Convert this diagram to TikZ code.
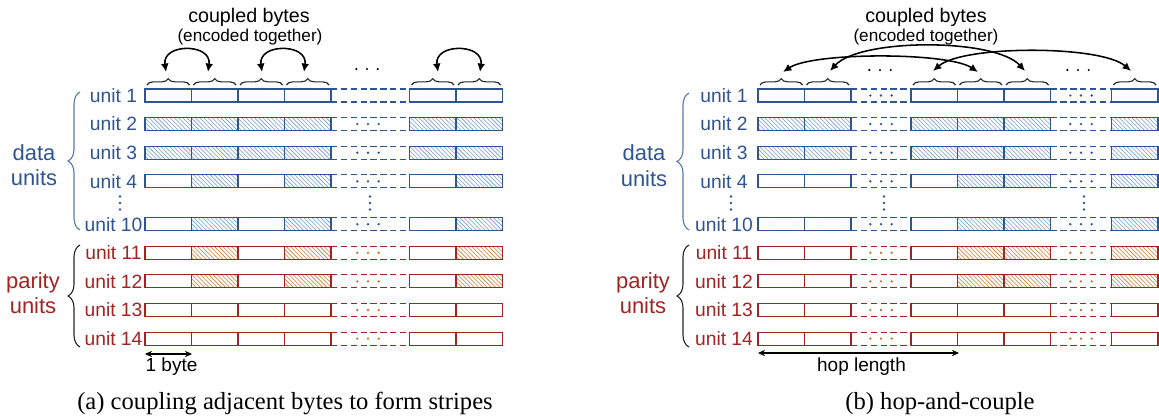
\documentclass[tikz,border=0pt]{standalone}
\usepackage{fontspec}
\setmainfont{Liberation Serif}
\setsansfont{Liberation Sans}
\usepackage{tikz}
\usetikzlibrary{arrows.meta, patterns, decorations.pathreplacing}

\definecolor{datablue}{RGB}{46,84,146}
\definecolor{hatchblue}{RGB}{120,158,210}
\definecolor{braceblue}{RGB}{84,122,176}
\definecolor{parred}{RGB}{163,35,35}
\definecolor{hatchorange}{RGB}{212,128,52}
\definecolor{dotorange}{RGB}{196,112,40}

\begin{document}
\begin{tikzpicture}[
  x=0.025cm, y=0.025cm,
  font=\sffamily,
  every node/.style={align=center},
  cellb/.style={draw=datablue, line width=0.8pt, fill=white},
  cellr/.style={draw=parred, line width=0.8pt, fill=white},
  gapb/.style={draw=datablue, line width=0.8pt, dash pattern=on 4.5pt off 2.5pt},
  gapr/.style={draw=parred, line width=0.8pt, dash pattern=on 4.5pt off 2.5pt},
  hatchb/.style={pattern=north west lines, pattern color=hatchblue},
  hatchr/.style={pattern=north west lines, pattern color=hatchorange},
  datalab/.style={text=datablue, font=\fontsize{13.7}{16}\selectfont\sffamily},
  parlab/.style={text=parred, font=\fontsize{13.7}{16}\selectfont\sffamily},
  grouplab/.style={font=\fontsize{15.6}{18}\selectfont\sffamily},
  toplab/.style={font=\fontsize{14}{16}\selectfont\sffamily},
  sublab/.style={font=\fontsize{12.2}{14}\selectfont\sffamily},
  dimlab/.style={font=\fontsize{13.5}{16}\selectfont\sffamily},
  caption/.style={font=\fontsize{17.5}{20}\selectfont\rmfamily},
  topbrace/.style={draw=black!85, line width=0.8pt, decorate, decoration={brace, amplitude=4.5pt}},
  sidebrace/.style={line width=0.8pt, decorate, decoration={brace, amplitude=8.5pt}},
  couple/.style={{Latex[length=6pt,width=5.5pt]}-{Latex[length=6pt,width=5.5pt]}, line width=1.1pt},
  dimarr/.style={{Stealth[length=5pt,width=4.5pt]}-{Stealth[length=5pt,width=4.5pt]}, line width=0.8pt}
]
\useasboundingbox (0,0) rectangle (1159,-416);

%% (a) coupling adjacent bytes
\foreach \yy in {95.5,124.1,152.7,181.3,224.2}{
  \foreach \xx in {145,191.5,238,284.5,409.5,456}
    \draw[cellb] (\xx,-\yy+6.5) rectangle ++(46.5,-13);
  \draw[gapb] (331,-\yy+6.5) -- ++(78.5,0) (331,-\yy-6.5) -- ++(78.5,0);
}
\foreach \yy in {252.8,281.4,310,338.6}{
  \foreach \xx in {145,191.5,238,284.5,409.5,456}
    \draw[cellr] (\xx,-\yy+6.5) rectangle ++(46.5,-13);
  \draw[gapr] (331,-\yy+6.5) -- ++(78.5,0) (331,-\yy-6.5) -- ++(78.5,0);
}
\foreach \yy in {124.1,152.7}
  \foreach \xx in {145,191.5,238,284.5,409.5,456}
    \draw[cellb,hatchb] (\xx,-\yy+6.5) rectangle ++(46.5,-13);
\foreach \yy in {181.3,224.2}
  \foreach \xx in {191.5,284.5,456}
    \draw[cellb,hatchb] (\xx,-\yy+6.5) rectangle ++(46.5,-13);
\foreach \yy in {252.8,281.4}
  \foreach \xx in {191.5,284.5,456}
    \draw[cellr,hatchr] (\xx,-\yy+6.5) rectangle ++(46.5,-13);

% dots
\foreach \yy in {124.1,152.7,181.3,224.2}
  \foreach \d in {-10.7,0,10.7}
    \fill[datablue] (368+\d,-\yy) circle[radius=1.3];
\foreach \yy in {252.8,281.4,310,338.6}
  \foreach \d in {-10.7,0,10.7}
    \fill[dotorange] (368+\d,-\yy) circle[radius=1.3];
\foreach \xx in {120,370}
  \foreach \d in {-6.5,0,6.5}
    \fill[datablue] (\xx,-203+\d) circle[radius=1.3];
\foreach \d in {-10.7,0,10.7}
  \fill (367+\d,-69) circle[radius=1.2];

% labels
\foreach \yy/\n in {95.5/1,124.1/2,152.7/3,181.3/4,224.2/10}
  \node[datalab] (a-u\n) at (113.5,-\yy) {unit \n};
\foreach \yy/\n in {252.8/11,281.4/12,310/13,338.6/14}
  \node[parlab] (a-u\n) at (113.5,-\yy) {unit \n};
\node[grouplab, text=datablue] (a-data) at (34,-165) {data\\units};
\node[grouplab, text=parred] (a-par) at (33,-293) {parity\\units};
\draw[sidebrace, draw=braceblue] (80,-230) -- (80,-92);
\draw[sidebrace, draw=black!85] (80,-347) -- (80,-245);

% coupled bytes
\foreach \xx in {145,191.5,238,284.5,409.5,456}
  \draw[topbrace] (\xx+2,-85) -- (\xx+44.5,-85);
\coordinate (a-p1) at (166,-72);
\coordinate (a-q1) at (208,-72);
\coordinate (a-p2) at (262,-72);
\coordinate (a-q2) at (304,-72);
\coordinate (a-p3) at (438,-72);
\coordinate (a-q3) at (480,-72);
\draw[couple] (a-p1) .. controls +(-4,29) and +(4,29) .. (a-q1);
\draw[couple] (a-p2) .. controls +(-4,29) and +(4,29) .. (a-q2);
\draw[couple] (a-p3) .. controls +(-4,29) and +(4,29) .. (a-q3);
\node[toplab, anchor=base] (a-cb) at (249,-22) {coupled bytes};
\node[sublab, anchor=base] (a-et) at (250,-41) {(encoded together)};

\coordinate (a-b0) at (145,-354);
\coordinate (a-b1) at (192,-354);
\draw[dimarr] (a-b0) -- (a-b1);
\node[dimlab, anchor=base] (a-byte) at (171.5,-371) {1 byte};
\node[caption, anchor=base] (a-cap) at (285,-409) {(a) coupling adjacent bytes to form stripes};

%% (b) hop-and-couple
\foreach \yy in {95.5,124.1,152.7,181.3,224.2}{
  \foreach \xx in {758,804.5,911,957.5,1004,1111.5}
    \draw[cellb] (\xx,-\yy+6.5) rectangle ++(46.5,-13);
  \draw[gapb] (851,-\yy+6.5) -- ++(60,0) (851,-\yy-6.5) -- ++(60,0);
  \draw[gapb] (1050.5,-\yy+6.5) -- ++(61,0) (1050.5,-\yy-6.5) -- ++(61,0);
}
\foreach \yy in {252.8,281.4,310,338.6}{
  \foreach \xx in {758,804.5,911,957.5,1004,1111.5}
    \draw[cellr] (\xx,-\yy+6.5) rectangle ++(46.5,-13);
  \draw[gapr] (851,-\yy+6.5) -- ++(60,0) (851,-\yy-6.5) -- ++(60,0);
  \draw[gapr] (1050.5,-\yy+6.5) -- ++(61,0) (1050.5,-\yy-6.5) -- ++(61,0);
}
\foreach \yy in {124.1,152.7}
  \foreach \xx in {758,804.5,911,957.5,1004,1111.5}
    \draw[cellb,hatchb] (\xx,-\yy+6.5) rectangle ++(46.5,-13);
\foreach \yy in {181.3,224.2}
  \foreach \xx in {957.5,1004,1111.5}
    \draw[cellb,hatchb] (\xx,-\yy+6.5) rectangle ++(46.5,-13);
\foreach \yy in {252.8,281.4}
  \foreach \xx in {957.5,1004,1111.5}
    \draw[cellr,hatchr] (\xx,-\yy+6.5) rectangle ++(46.5,-13);

% dots
\foreach \yy in {95.5,124.1,152.7,181.3,224.2}
  \foreach \cx in {881,1081}
    \foreach \d in {-10.7,0,10.7}
      \fill[datablue] (\cx+\d,-\yy) circle[radius=1.3];
\foreach \yy in {252.8,281.4,310,338.6}
  \foreach \cx in {881,1081}
    \foreach \d in {-10.7,0,10.7}
      \fill[dotorange] (\cx+\d,-\yy) circle[radius=1.3];
\foreach \xx in {731,884,1084}
  \foreach \d in {-6.5,0,6.5}
    \fill[datablue] (\xx,-203+\d) circle[radius=1.3];
\foreach \cx in {880,1078}
  \foreach \d in {-10.7,0,10.7}
    \fill (\cx+\d,-70) circle[radius=1.2];

% labels
\foreach \yy/\n in {95.5/1,124.1/2,152.7/3,181.3/4,224.2/10}
  \node[datalab] (b-u\n) at (724,-\yy) {unit \n};
\foreach \yy/\n in {252.8/11,281.4/12,310/13,338.6/14}
  \node[parlab] (b-u\n) at (724,-\yy) {unit \n};
\node[grouplab, text=datablue] (b-data) at (644,-165.5) {data\\units};
\node[grouplab, text=parred] (b-par) at (643,-293) {parity\\units};
\draw[sidebrace, draw=braceblue] (689,-230) -- (689,-93);
\draw[sidebrace, draw=black!85] (689,-347) -- (689,-245);

% coupled bytes, one hop apart
\foreach \xx in {758,804.5,911,957.5,1004,1111.5}
  \draw[topbrace] (\xx+2,-85) -- (\xx+44.5,-85);
\coordinate (b-p1) at (783,-72);
\coordinate (b-q1) at (978,-72);
\coordinate (b-p2) at (830,-71);
\coordinate (b-q2) at (1025,-71);
\coordinate (b-p3) at (933,-71);
\coordinate (b-q3) at (1131,-71);
\draw[couple] (b-p1) .. controls +(30,20) and +(-30,20) .. (b-q1);
\draw[couple] (b-p2) .. controls +(30,33) and +(-30,33) .. (b-q2);
\draw[couple] (b-p3) .. controls +(30,26) and +(-30,26) .. (b-q3);
\node[toplab, anchor=base] (b-cb) at (926,-22) {coupled bytes};
\node[sublab, anchor=base] (b-et) at (926,-41) {(encoded together)};

\coordinate (b-h0) at (758,-353);
\coordinate (b-h1) at (959,-353);
\draw[dimarr] (b-h0) -- (b-h1);
\node[dimlab, anchor=base] (b-hop) at (861.5,-371) {hop length};
\node[caption, anchor=base] (b-cap) at (940,-409) {(b) hop-and-couple};
\end{tikzpicture}
\end{document}
